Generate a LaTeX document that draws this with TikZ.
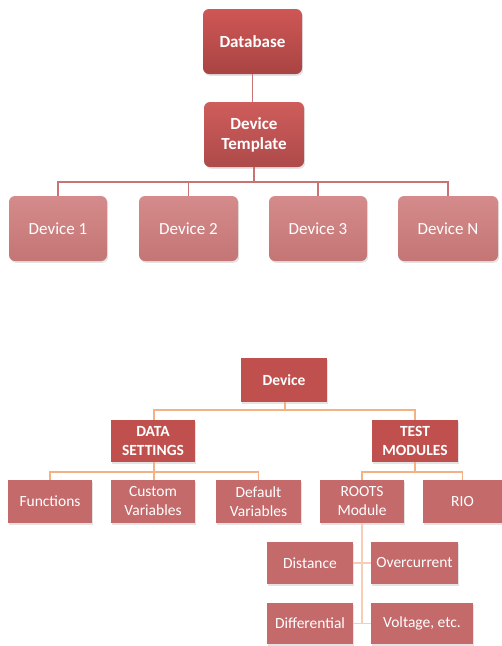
\documentclass[tikz,border=0pt]{standalone}
\usepackage{fontspec}
\setmainfont{Carlito}
\usetikzlibrary{shadows}
\definecolor{dbtop}{HTML}{CF5755}
\definecolor{dbbot}{HTML}{A84443}
\definecolor{tpltop}{HTML}{CE5D5B}
\definecolor{tplbot}{HTML}{AE4A4A}
\definecolor{devtop}{HTML}{D58B8B}
\definecolor{devbot}{HTML}{C47575}
\definecolor{toplink}{HTML}{C87474}
\definecolor{darkred}{HTML}{C0504D}
\definecolor{midred}{HTML}{C46A6A}
\definecolor{orangelink}{HTML}{F4B183}
\definecolor{peachlink}{HTML}{F8CDB6}
\tikzset{
  softshadow/.style={drop shadow={opacity=0.22, shadow xshift=1.2pt, shadow yshift=-1.8pt}},
  tbox/.style={rounded corners=6pt, text=white, align=center, inner sep=0pt,
    minimum height=65pt, font=\fontsize{17}{20}\selectfont, softshadow},
  headbox/.style={tbox, top color=dbtop, bottom color=dbbot, font=\fontsize{17}{20}\selectfont\bfseries},
  tmplbox/.style={tbox, top color=tpltop, bottom color=tplbot, font=\fontsize{17}{20}\selectfont\bfseries},
  devbox/.style={tbox, top color=devtop, bottom color=devbot},
  bbox/.style={text=white, align=center, inner sep=0pt, softshadow,
    font=\fontsize{15.5}{19}\selectfont},
  strongbox/.style={bbox, fill=darkred, font=\fontsize{15.5}{18.5}\selectfont\bfseries},
  leafbox/.style={bbox, fill=midred},
  toplinks/.style={draw=toplink, line width=1.7pt},
  orangelinks/.style={draw=orangelink, line width=1.4pt},
  peachlinks/.style={draw=peachlink, line width=1.4pt},
}
\begin{document}
\begin{tikzpicture}[x=1pt, y=-1pt]
\useasboundingbox (0,0) rectangle (502,646);

% ---- upper tree: database and devices ----
\node[headbox, minimum width=99pt] (db) at (252.5,41.5) {Database};
\node[tmplbox, minimum width=100pt] (tpl) at (254,134.5) {Device\\Template};
\node[devbox, minimum width=98pt] (d1) at (58,228.5) {Device 1};
\node[devbox, minimum width=99pt] (d2) at (188.5,228.5) {Device 2};
\node[devbox, minimum width=98pt] (d3) at (318,228.5) {Device 3};
\node[devbox, minimum width=100pt] (dN) at (448,228.5) {Device N};
\coordinate (tb) at (254,182);

\path[toplinks] (db.south) -- (db.south |- tpl.north);
\path[toplinks] (tpl.south) -- (tb);
\path[toplinks] (d1.north) |- (tb) -| (dN.north);
\path[toplinks] (d2.north) |- (tb);
\path[toplinks] (d3.north) |- (tb);

% ---- lower tree: device structure ----
\node[strongbox, minimum width=86pt, minimum height=44pt] (dev) at (284,380) {Device};
\node[strongbox, minimum width=84pt, minimum height=42pt] (ds) at (153,441) {DATA\\SETTINGS};
\node[strongbox, minimum width=86pt, minimum height=42pt] (tm) at (415,441) {TEST\\MODULES};

\node[leafbox, minimum width=84pt, minimum height=43pt] (fn) at (50,501.5) {Functions};
\node[leafbox, minimum width=84pt, minimum height=43pt] (cv) at (153,501.5) {Custom\\Variables};
\node[leafbox, minimum width=85pt, minimum height=43pt] (dv) at (258.5,501.5) {Default\\Variables};
\node[leafbox, minimum width=84pt, minimum height=43pt] (rm) at (362,501.5) {ROOTS\\Module};
\node[leafbox, minimum width=79pt, minimum height=43pt] (rio) at (462.5,501.5) {RIO};

\node[leafbox, minimum width=86pt, minimum height=42pt] (dist) at (310,563) {Distance};
\node[leafbox, minimum width=87pt, minimum height=42pt] (over) at (414.5,563) {Overcurrent};
\node[leafbox, minimum width=86pt, minimum height=41pt] (diff) at (310,623.5) {Differential};
\node[leafbox, minimum width=102pt, minimum height=41pt] (volt) at (422,623.5) {Voltage, etc.};

\coordinate (devb) at (285,410);
\coordinate (dsb) at (154,472);
\coordinate (tmb) at (415,472);

\path[orangelinks] (dev.south -| devb) -- (devb);
\path[orangelinks] (ds.north -| dsb) |- (devb) -| (tm.north);
\path[orangelinks] (ds.south -| dsb) -- (dsb);
\path[orangelinks] (fn.north) |- (dsb) -| (dv.north);
\path[orangelinks] (cv.north -| dsb) -- (dsb);
\path[orangelinks] (tm.south) -- (tmb);
\path[orangelinks] (rm.north) |- (tmb) -| (rio.north);

\path[peachlinks] (rm.south) -- (rm.south |- diff.east);
\path[peachlinks] (dist.east) -- (over.west);
\path[peachlinks] (diff.east) -- (volt.west);
\end{tikzpicture}
\end{document}
